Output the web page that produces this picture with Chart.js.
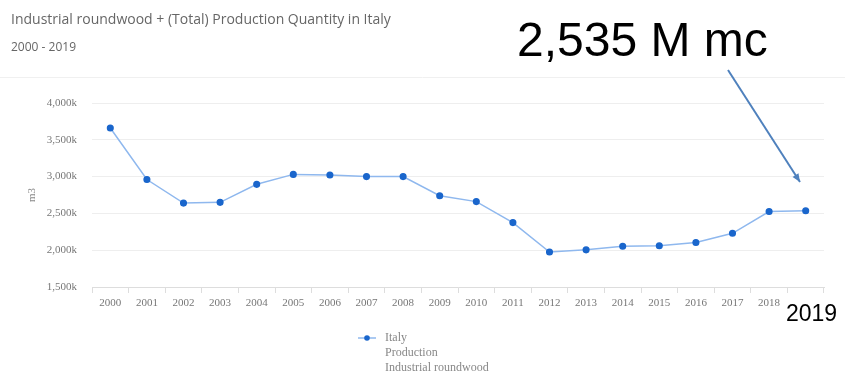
<!DOCTYPE html>
<html>
<head>
<meta charset="utf-8">
<script src="https://cdn.jsdelivr.net/npm/chart.js@4/dist/chart.umd.min.js"></script>
<style>
  html, body { margin: 0; padding: 0; background: #fff; }
  #wrap { width: 845px; height: 376px; position: relative; }
</style>
</head>
<body>
<div id="wrap"><canvas id="chart"></canvas></div>
<script>
// Données (milliers de m3)
const years = ['2000', '2001', '2002', '2003', '2004', '2005', '2006', '2007', '2008', '2009',
  '2010', '2011', '2012', '2013', '2014', '2015', '2016', '2017', '2018', '2019'];
const production = [3660, 2960, 2640, 2650, 2895, 3030, 3022, 3000, 3000, 2740,
  2660, 2375, 1975, 2005, 2053, 2060, 2105, 2230, 2525, 2535];
const yTicks = [1500, 2000, 2500, 3000, 3500, 4000];
const legendLines = ['Italy', 'Production', 'Industrial roundwood'];

const lineColor = '#8fb8ee';
const dotColor = '#1a66cc';

// Titre, annotations et légende dessinés à la main
const decorations = {
  id: 'decorations',
  afterDraw(chart) {
    const ctx = chart.ctx;
    ctx.save();

    // titre
    ctx.fillStyle = '#666';
    ctx.font = '14px "Open Sans"';
    ctx.textBaseline = 'alphabetic';
    ctx.fillText('Industrial roundwood + (Total) Production Quantity in Italy', 11, 24);
    ctx.font = '12px "Open Sans"';
    ctx.fillText('2000 - 2019', 11, 51);

    // trait sous l'en-tête
    ctx.strokeStyle = '#f0f0f0';
    ctx.lineWidth = 1;
    ctx.beginPath();
    ctx.moveTo(0, 77.5);
    ctx.lineTo(845, 77.5);
    ctx.stroke();

    // titre axe Y
    ctx.fillStyle = '#888';
    ctx.font = '11px "Liberation Serif"';
    ctx.translate(35, 195);
    ctx.rotate(-Math.PI / 2);
    ctx.textAlign = 'center';
    ctx.fillText('m3', 0, 0);
    ctx.setTransform(1, 0, 0, 1, 0, 0);

    // légende
    ctx.strokeStyle = lineColor;
    ctx.lineWidth = 1.5;
    ctx.beginPath();
    ctx.moveTo(358, 338);
    ctx.lineTo(376, 338);
    ctx.stroke();
    ctx.fillStyle = dotColor;
    ctx.beginPath();
    ctx.arc(367, 338, 2.8, 0, Math.PI * 2);
    ctx.fill();
    ctx.fillStyle = '#888';
    ctx.font = '12px "Liberation Serif"';
    ctx.textAlign = 'left';
    ctx.textBaseline = 'middle';
    legendLines.forEach((t, i) => ctx.fillText(t, 385, 338 + i * 15));

    // annotation
    ctx.fillStyle = '#000';
    ctx.textBaseline = 'alphabetic';
    ctx.font = '48px "Liberation Sans"';
    ctx.fillText('2,535 M mc', 517, 56);

    ctx.strokeStyle = '#4f81bd';
    ctx.fillStyle = '#4f81bd';
    ctx.lineWidth = 2;
    const x1 = 728, y1 = 70, x2 = 800, y2 = 182;
    ctx.beginPath();
    ctx.moveTo(x1, y1);
    ctx.lineTo(x2, y2);
    ctx.stroke();
    const a = Math.atan2(y2 - y1, x2 - x1);
    ctx.beginPath();
    ctx.moveTo(x2, y2);
    ctx.lineTo(x2 - 9 * Math.cos(a - 0.4), y2 - 9 * Math.sin(a - 0.4));
    ctx.lineTo(x2 - 9 * Math.cos(a + 0.4), y2 - 9 * Math.sin(a + 0.4));
    ctx.closePath();
    ctx.fill();

    ctx.fillStyle = '#fff';
    ctx.fillRect(782, 296, 63, 30);
    ctx.fillStyle = '#000';
    ctx.font = '23px "Liberation Sans"';
    ctx.fillText('2019', 786, 321);

    ctx.restore();
  }
};

new Chart(document.getElementById('chart'), {
  type: 'line',
  data: {
    labels: years,
    datasets: [{
      label: 'Italy',
      data: production,
      borderColor: lineColor,
      backgroundColor: dotColor,
      pointBackgroundColor: dotColor,
      pointBorderColor: dotColor,
      pointRadius: 2.8,
      borderWidth: 1.5,
      tension: 0,
      fill: false
    }]
  },
  options: {
    responsive: true,
    maintainAspectRatio: false,
    animation: false,
    layout: { padding: { left: 0, top: 103, right: 21, bottom: 59 } },
    plugins: { legend: { display: false }, tooltip: { enabled: false } },
    scales: {
      x: {
        offset: true,
        afterFit(scale) { scale.height = 30; },
        grid: { offset: true, drawOnChartArea: false, drawTicks: true, tickLength: 6, color: '#ddd' },
        border: { display: true, color: '#ddd' },
        ticks: { color: '#777', font: { family: 'Liberation Serif', size: 11 }, maxRotation: 0, autoSkip: false, padding: 4 }
      },
      y: {
        min: 1500,
        max: 4000,
        afterFit(scale) { scale.width = 92; },
        afterBuildTicks(scale) { scale.ticks = yTicks.map(v => ({ value: v })); },
        grid: { color: '#eee', drawTicks: false },
        border: { display: false },
        ticks: {
          color: '#777',
          padding: 15,
          font: { family: 'Liberation Serif', size: 11 },
          callback: v => v.toLocaleString('en-US') + 'k'
        }
      }
    }
  },
  plugins: [decorations]
});
</script>
</body>
</html>
